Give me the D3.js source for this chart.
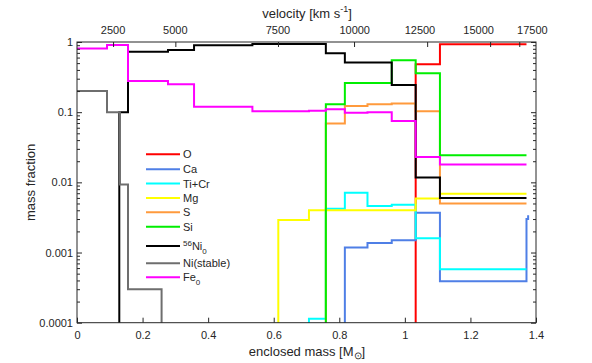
<!DOCTYPE html>
<html>
<head>
<meta charset="utf-8">
<script src="https://cdn.jsdelivr.net/npm/d3@7"></script>
<style>
  body { margin: 0; background: #fff; }
  text { font-family: "Liberation Sans", Arial, sans-serif; fill: #262626; }
</style>
</head>
<body>
<svg></svg>
<script>
const margin = {t: 42, r: 56, b: 40, l: 77};
const size = {w: 592, h: 363};
const svg = d3.select('svg');

svg.attr('width', size.w)
    .attr('height', size.h);

// mass fraction step profiles: [enclosed mass, value], value holds until next mass
const seriesO = [[1.033, 1e-6], [1.033, 0.48], [1.107, 0.93], [1.371, 0.93]];
const seriesCa = [[0.817, 1e-6], [0.817, 0.00118], [0.886, 0.00137], [0.96, 0.0015],
    [1.033, 0.0037], [1.107, 0.00039], [1.371, 0.0030], [1.376, 0.0034]];
const seriesTiCr = [[0.7075, 1e-6], [0.7075, 0.000114], [0.759, 0.0042], [0.817, 0.0071],
    [0.886, 0.0046], [0.96, 0.0048], [1.033, 0.0016], [1.107, 0.00058], [1.371, 0.00058]];
const seriesMg = [[0.614, 1e-6], [0.614, 0.0029], [0.7075, 0.004], [1.033, 0.0059],
    [1.107, 0.0069], [1.371, 0.0069]];
const seriesS = [[0.759, 1e-6], [0.759, 0.069], [0.817, 0.122], [0.886, 0.13], [0.96, 0.133],
    [1.033, 0.103], [1.107, 0.005], [1.371, 0.005]];
const seriesSi = [[0.759, 1e-6], [0.759, 0.13], [0.817, 0.26], [0.96, 0.55], [1.033, 0.36],
    [1.107, 0.0243], [1.371, 0.0243]];
const seriesNi56 = [[0.129, 1e-6], [0.129, 0.1], [0.1555, 0.727], [0.2775, 0.77], [0.357, 0.9],
    [0.535, 0.935], [0.759, 0.69], [0.817, 0.51], [0.96, 0.243], [1.033, 0.0117],
    [1.107, 0.006], [1.371, 0.006]];
const seriesNiStable = [[0, 0.2], [0.0915, 0.1], [0.131, 0.0093], [0.1555, 0.0003], [0.258, 1e-6]];
const seriesFe = [[0, 0.81], [0.0915, 0.906], [0.1555, 0.277], [0.2775, 0.251], [0.357, 0.119],
    [0.535, 0.103], [0.7075, 0.105], [0.759, 0.11], [0.817, 0.098], [0.886, 0.1],
    [0.96, 0.075], [1.033, 0.023], [1.107, 0.018], [1.371, 0.018]];

const names = ['O', 'Ca', 'Ti+Cr', 'Mg', 'S', 'Si', 'Ni56', 'Ni(stable)', 'Fe0'];
const colors = ['#ff0000', '#4f7fe6', '#00ffff', '#ffff00', '#ff9a3c', '#00ee00', '#000000', '#6e6e6e', '#ff00ff'];
const allSeries = [seriesO, seriesCa, seriesTiCr, seriesMg, seriesS, seriesSi, seriesNi56, seriesNiStable, seriesFe];

const massTicks = [0, 0.2, 0.4, 0.6, 0.8, 1, 1.2, 1.4];
const fracTicks = [0.0001, 0.001, 0.01, 0.1, 1];
const fracLabels = ['0.0001', '0.001', '0.01', '0.1', '1'];

// top axis: velocity ticks placed at enclosed mass
const velTicks = [2500, 5000, 7500, 10000, 12500, 15000, 17500];
const velTickMass = [0.110, 0.300, 0.613, 0.845, 1.068, 1.260, 1.349];
const velLabelMass = [0.110, 0.300, 0.613, 0.847, 1.046, 1.225, 1.389];

const x = d3.scaleLinear().domain([0, 1.4]).range([margin.l, 536]);
const y = d3.scaleLog().domain([0.0001, 1]).range([322.7, margin.t]);

const axisColor = '#262626';

svg.append('clipPath').attr('id', 'clip')
    .append('rect')
    .attr('x', x(0)).attr('y', y(1))
    .attr('width', x(1.4) - x(0)).attr('height', y(0.0001) - y(1));

const line = d3.line()
    .x(d => x(d[0]))
    .y(d => y(Math.max(d[1], 1e-5)))
    .curve(d3.curveStepAfter);

let plotG = svg.append('g').attr('clip-path', 'url(#clip)');
plotG.selectAll('path')
    .data(allSeries)
    .enter()
    .append('path')
    .attr('d', d => line(d))
    .attr('fill', 'none')
    .attr('stroke', (d, i) => colors[i])
    .attr('stroke-width', 2);

// axes (MATLAB style ticks pointing inward)
let axG = svg.append('g');
axG.append('g')
    .attr('transform', `translate(0,${y(0.0001)})`)
    .call(d3.axisBottom(x).tickValues(massTicks).tickSize(-5).tickPadding(9)
        .tickFormat(d => d3.format('~g')(d)));
axG.append('g')
    .attr('transform', `translate(0,${y(1)})`)
    .call(d3.axisTop(x).tickValues(velTickMass).tickSize(-5).tickFormat(''));

let minor = [];
for (let e = -4; e < 0; e++) {
    for (let k = 2; k <= 9; k++) minor.push(k * Math.pow(10, e));
}
axG.append('g')
    .attr('transform', `translate(${x(0)},0)`)
    .call(d3.axisLeft(y).tickValues(fracTicks).tickSize(-5).tickPadding(4)
        .tickFormat((d, i) => fracLabels[i]));
axG.append('g')
    .attr('transform', `translate(${x(0)},0)`)
    .call(d3.axisLeft(y).tickValues(minor).tickSize(-3).tickFormat(''));
axG.append('g')
    .attr('transform', `translate(${x(1.4)},0)`)
    .call(d3.axisRight(y).tickValues(fracTicks).tickSize(-5).tickFormat(''));
axG.append('g')
    .attr('transform', `translate(${x(1.4)},0)`)
    .call(d3.axisRight(y).tickValues(minor).tickSize(-3).tickFormat(''));

axG.selectAll('.domain').remove();
axG.selectAll('line').attr('stroke', axisColor);
axG.selectAll('text').style('font-size', '11px').attr('fill', axisColor)
    .style('font-family', '"Liberation Sans", Arial, sans-serif');

// box
svg.append('rect')
    .attr('x', x(0)).attr('y', y(1))
    .attr('width', x(1.4) - x(0)).attr('height', y(0.0001) - y(1))
    .attr('fill', 'none').attr('stroke', axisColor).attr('stroke-width', 1);

// velocity labels
svg.append('g').selectAll('text')
    .data(velTicks)
    .enter()
    .append('text')
    .attr('x', (d, i) => x(velLabelMass[i]))
    .attr('y', 34)
    .attr('text-anchor', 'middle')
    .style('font-size', '11px')
    .text(d => d);

// axis titles
let vt = svg.append('text').attr('x', 307).attr('y', 18).attr('text-anchor', 'middle').style('font-size', '13px');
vt.append('tspan').text('velocity [km s');
vt.append('tspan').attr('dy', -6).style('font-size', '9px').text('-1');
vt.append('tspan').attr('dy', 6).text(']');

let xt = svg.append('text').attr('x', 307).attr('y', 356).attr('text-anchor', 'middle').style('font-size', '13px');
xt.append('tspan').text('enclosed mass [M');
xt.append('tspan').attr('dy', 3).style('font-size', '10px').text('\u2299');
xt.append('tspan').attr('dy', -3).text(']');

svg.append('text')
    .attr('transform', `translate(35,${(y(1) + y(0.0001)) / 2}) rotate(-90)`)
    .attr('text-anchor', 'middle')
    .style('font-size', '13px')
    .text('mass fraction');

// legend
const legendY = [154.3, 169.3, 183.5, 198, 212.3, 226.7, 246, 263.3, 277.3];
let legG = svg.append('g');
names.forEach((n, i) => {
    legG.append('line')
        .attr('x1', 146).attr('x2', 180)
        .attr('y1', legendY[i]).attr('y2', legendY[i])
        .attr('stroke', colors[i]).attr('stroke-width', 2);
    let t = legG.append('text')
        .attr('x', 183).attr('y', legendY[i] + 4)
        .style('font-size', '11px');
    if (n === 'Ni56') {
        t.append('tspan').attr('dy', -4).style('font-size', '8px').text('56');
        t.append('tspan').attr('dy', 4).text('Ni');
        t.append('tspan').attr('dy', 4).style('font-size', '8px').text('0');
    } else if (n === 'Fe0') {
        t.append('tspan').text('Fe');
        t.append('tspan').attr('dy', 4).style('font-size', '8px').text('0');
    } else {
        t.text(n);
    }
});
</script>
</body>
</html>
